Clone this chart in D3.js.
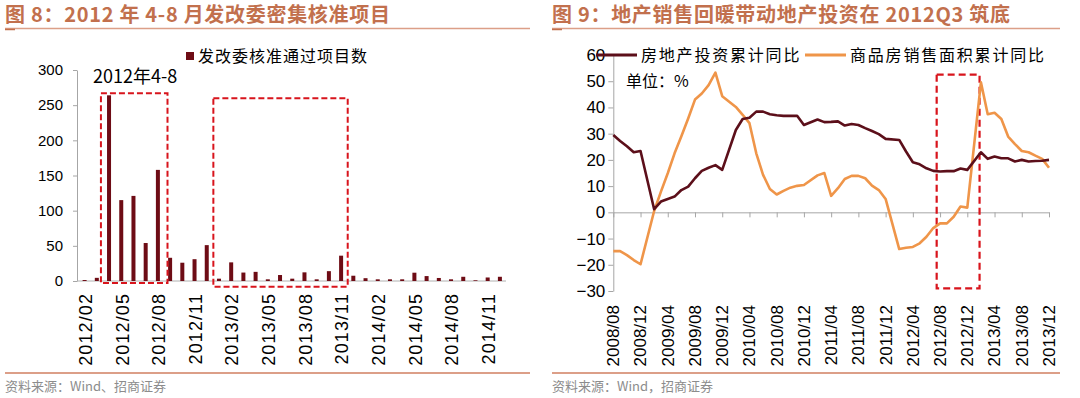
<!DOCTYPE html>
<html lang="zh">
<head>
<meta charset="UTF-8">
<title>发改委核准项目与地产投资</title>
<script src="https://cdn.jsdelivr.net/npm/d3@7/dist/d3.min.js"></script>
<style>
  body { margin: 0; background: #fff; }
  svg { display: block; font-family: "Liberation Sans", Arial, sans-serif; }
  .cjk { font-family: "Noto Sans CJK SC", sans-serif; }
  .axis path, .axis line { stroke: #a6a6a6; }
  .axis text { fill: #000; }
</style>
</head>
<body>
<svg id="chart" width="1080" height="398"></svg>
<script>
// ---- 图8: 发改委核准通过项目数 (monthly) ----
const projMonths = [
  "2012/02","2012/03","2012/04","2012/05","2012/06","2012/07","2012/08","2012/09","2012/10","2012/11","2012/12",
  "2013/01","2013/02","2013/03","2013/04","2013/05","2013/06","2013/07","2013/08","2013/09","2013/10","2013/11","2013/12",
  "2014/01","2014/02","2014/03","2014/04","2014/05","2014/06","2014/07","2014/08","2014/09","2014/10","2014/11","2014/12"
];
const projCounts = [1.4, 4.5, 264, 115, 121, 54, 158, 33, 26, 31, 51,
  3.3, 26.5, 12, 13, 2.4, 8.5, 3.3, 12.3, 2.4, 14, 36, 7.5,
  4, 2.4, 2.4, 2.4, 11.8, 7, 4.3, 2.4, 6, 1, 5, 6];
const projTicks = ["2012/02","2012/05","2012/08","2012/11","2013/02","2013/05",
  "2013/08","2013/11","2014/02","2014/05","2014/08","2014/11"];
const projYTicks = [0, 50, 100, 150, 200, 250, 300];

// ---- 图9: 房地产投资 / 商品房销售面积 累计同比 (%) ----
const reMonths = [
  "2008/08","2008/09","2008/10","2008/11","2008/12",
  "2009/01","2009/02","2009/03","2009/04","2009/05","2009/06","2009/07","2009/08","2009/09","2009/10","2009/11","2009/12",
  "2010/01","2010/02","2010/03","2010/04","2010/05","2010/06","2010/07","2010/08","2010/09","2010/10","2010/11","2010/12",
  "2011/01","2011/02","2011/03","2011/04","2011/05","2011/06","2011/07","2011/08","2011/09","2011/10","2011/11","2011/12",
  "2012/01","2012/02","2012/03","2012/04","2012/05","2012/06","2012/07","2012/08","2012/09","2012/10","2012/11","2012/12",
  "2013/01","2013/02","2013/03","2013/04","2013/05","2013/06","2013/07","2013/08","2013/09","2013/10","2013/11","2013/12"
];
const investYoY = [
  29.5, 27.2, 25.2, 22.9, 23.4,
  null, 1.2, 4.1, 5.1, 6.0, 8.5, 9.8, 13.0, 15.8, 17.0, 18.0, 16.2,
  null, 31.4, 35.6, 36.1, 38.4, 38.4, 37.4, 37.0, 36.8, 36.8, 36.8, 33.3,
  null, 35.4, 34.4, 34.5, 34.7, 33.1, 33.7, 33.3, 32.1, 31.0, 29.8, 28.0,
  null, 27.6, 23.2, 19.1, 18.3, 16.8, 15.8, 15.6, 15.7, 15.7, 16.7, 16.2,
  null, 22.9, 20.4, 21.3, 20.6, 20.6, 19.4, 20.0, 19.4, 19.6, 19.7, 20.0
];
const salesYoY = [
  -14.8, -14.8, -16.3, -18.2, -19.8,
  null, 0.5, 7.9, 14.9, 22.5, 29.0, 35.8, 43.0, 45.3, 48.5, 53.3, 44.3,
  null, 40.2, 37.2, 34.0, 22.5, 14.3, 8.9, 6.8, 8.2, 9.4, 10.1, 10.4,
  null, 14.1, 15.0, 6.3, 9.2, 12.7, 13.9, 13.9, 13.0, 10.2, 8.5, 5.1,
  null, -14.0, -13.5, -13.2, -11.8, -9.3, -6.0, -4.2, -4.2, -1.7, 2.2, 1.8,
  null, 49.6, 37.4, 38.0, 35.6, 28.9, 26.0, 23.4, 22.9, 21.6, 20.4, 17.0
];
const reTicks = ["2008/08","2008/12","2009/04","2009/08","2009/12","2010/04","2010/08","2010/12",
  "2011/04","2011/08","2011/12","2012/04","2012/08","2012/12","2013/04","2013/08","2013/12"];
const reYTicks = [-30, -20, -10, 0, 10, 20, 30, 40, 50, 60];

const titleColor = "#c2704d", ruleColor = "#dc9f88";
const barColor = "#6e0c15", investColor = "#5c0f1a", salesColor = "#ef9549", boxColor = "#d8141c";

const svg = d3.select("#chart");

// titles, rules and sources for both panels
function frame(x0, x1, title, source) {
  svg.append("text").attr("class", "cjk").attr("x", x0).attr("y", 22)
    .attr("font-size", 20).attr("font-weight", "bold").attr("letter-spacing", 0.7)
    .attr("fill", titleColor).text(title);
  svg.append("line").attr("x1", x0).attr("x2", x1).attr("y1", 28.5).attr("y2", 28.5)
    .attr("stroke", ruleColor).attr("stroke-width", 1.5);
  svg.append("line").attr("x1", x0).attr("x2", x0 + 10).attr("y1", 29.5).attr("y2", 29.5)
    .attr("stroke", titleColor).attr("stroke-width", 1.5);
  svg.append("line").attr("x1", x0).attr("x2", x1).attr("y1", 373).attr("y2", 373)
    .attr("stroke", ruleColor).attr("stroke-width", 2);
  svg.append("text").attr("class", "cjk").attr("x", x0).attr("y", 391)
    .attr("font-size", 13).attr("fill", "#8c8c8c").text(source);
}
frame(5, 530, "图 8：2012 年 4-8 月发改委密集核准项目", "资料来源：Wind、招商证券");
frame(552, 1060, "图 9：地产销售回暖带动地产投资在 2012Q3 筑底", "资料来源：Wind，招商证券");

// ================= 图8 =================
const xL = d3.scaleBand().domain(projMonths).range([78.5, 506]);
const yL = d3.scaleLinear().domain([0, 300]).range([281, 70]);
const barW = 4;

const gL = svg.append("g");
gL.append("g").attr("class", "axis").attr("transform", "translate(77,0)")
  .call(d3.axisLeft(yL).tickValues(projYTicks).tickSize(4).tickSizeOuter(0).tickPadding(10))
  .call(g => g.selectAll("text").attr("font-size", 15));

gL.append("line").attr("x1", 77).attr("x2", 506).attr("y1", yL(0)).attr("y2", yL(0))
  .attr("stroke", "#b0b0b0");

gL.append("g").selectAll("rect").data(projCounts).join("rect")
  .attr("x", (d, i) => xL(projMonths[i]) + xL.bandwidth() / 2 - barW / 2)
  .attr("width", barW)
  .attr("y", d => yL(d))
  .attr("height", d => yL(0) - yL(d))
  .attr("fill", barColor);

gL.append("g").selectAll("text").data(projTicks).join("text")
  .attr("transform", d => `translate(${xL(d) + xL.bandwidth() / 2 + 1},293) rotate(-90)`)
  .attr("text-anchor", "end").attr("dy", "0.35em")
  .attr("font-size", 18).attr("letter-spacing", 1.1).text(d => d);

// highlight boxes
const boxesL = [
  { from: "2012/04", to: "2012/08", lo: -3, hi: 267, padL: -2, padR: 3.5 },
  { from: "2013/01", to: "2013/11", lo: -8, hi: 260, padL: 0.5, padR: 0.5 }
];
gL.append("g").selectAll("rect").data(boxesL).join("rect")
  .attr("x", d => xL(d.from) + d.padL)
  .attr("width", d => xL(d.to) + xL.bandwidth() + d.padR - xL(d.from) - d.padL)
  .attr("y", d => yL(d.hi))
  .attr("height", d => yL(d.lo) - yL(d.hi))
  .attr("fill", "none").attr("stroke", boxColor).attr("stroke-width", 2)
  .attr("stroke-dasharray", "6,3");

gL.append("text").attr("class", "cjk").attr("x", 93).attr("y", 83)
  .attr("font-size", 18).text("2012年4-8");

// legend
gL.append("rect").attr("x", 186).attr("y", 52).attr("width", 8).attr("height", 8).attr("fill", barColor);
gL.append("text").attr("class", "cjk").attr("x", 198).attr("y", 62)
  .attr("font-size", 16).attr("letter-spacing", 1).text("发改委核准通过项目数");

// ================= 图9 =================
const xR = d3.scalePoint().domain(reMonths).range([613.3, 1049]);
const yR = d3.scaleLinear().domain([-30, 60]).range([291, 55]);

const gR = svg.append("g");
gR.append("g").attr("class", "axis").attr("transform", "translate(613.3,0)")
  .call(d3.axisLeft(yR).tickValues(reYTicks).tickSize(5).tickSizeOuter(0).tickPadding(3))
  .call(g => g.selectAll("text").attr("font-size", 17));

gR.append("g").attr("class", "axis").attr("transform", `translate(0,${yR(0)})`)
  .call(d3.axisBottom(xR).tickValues(reTicks).tickSize(5).tickSizeOuter(0).tickFormat(""));

gR.append("g").selectAll("text").data(reTicks).join("text")
  .attr("transform", d => `translate(${xR(d)},305) rotate(-90)`)
  .attr("text-anchor", "end").attr("dy", "0.35em")
  .attr("font-size", 17).text(d => d);

const line = d3.line().x(d => xR(d.m)).y(d => yR(d.v));
const series = [
  { name: "房地产投资累计同比", values: investYoY, color: investColor },
  { name: "商品房销售面积累计同比", values: salesYoY, color: salesColor }
];

// box behind lines
const boxR = { from: "2012/08", fromOff: -0.5, to: "2013/02", toOff: -0.2, lo: -29, hi: 52.5 };
gR.append("rect")
  .attr("x", xR(boxR.from) + boxR.fromOff * xR.step())
  .attr("width", xR(boxR.to) + boxR.toOff * xR.step() - xR(boxR.from) - boxR.fromOff * xR.step())
  .attr("y", yR(boxR.hi)).attr("height", yR(boxR.lo) - yR(boxR.hi))
  .attr("fill", "none").attr("stroke", boxColor).attr("stroke-width", 2.2)
  .attr("stroke-dasharray", "7,4");

// sales first so investment sits on top where they cross
series.slice().reverse().forEach(s => {
  const pts = reMonths.map((m, i) => ({ m, v: s.values[i] })).filter(d => d.v != null);
  gR.append("path").datum(pts).attr("d", line)
    .attr("fill", "none").attr("stroke", s.color).attr("stroke-width", 2.6)
    .attr("stroke-linejoin", "round");
});

// legend
const legX = [596, 805];
series.forEach((s, i) => {
  gR.append("line").attr("x1", legX[i]).attr("x2", legX[i] + 41).attr("y1", 55).attr("y2", 55)
    .attr("stroke", s.color).attr("stroke-width", 3);
  gR.append("text").attr("class", "cjk").attr("x", legX[i] + 45).attr("y", 61)
    .attr("font-size", 16).attr("letter-spacing", 1.8).text(s.name);
});
gR.append("text").attr("class", "cjk").attr("x", 626).attr("y", 87)
  .attr("font-size", 16).text("单位：%");
</script>
</body>
</html>
